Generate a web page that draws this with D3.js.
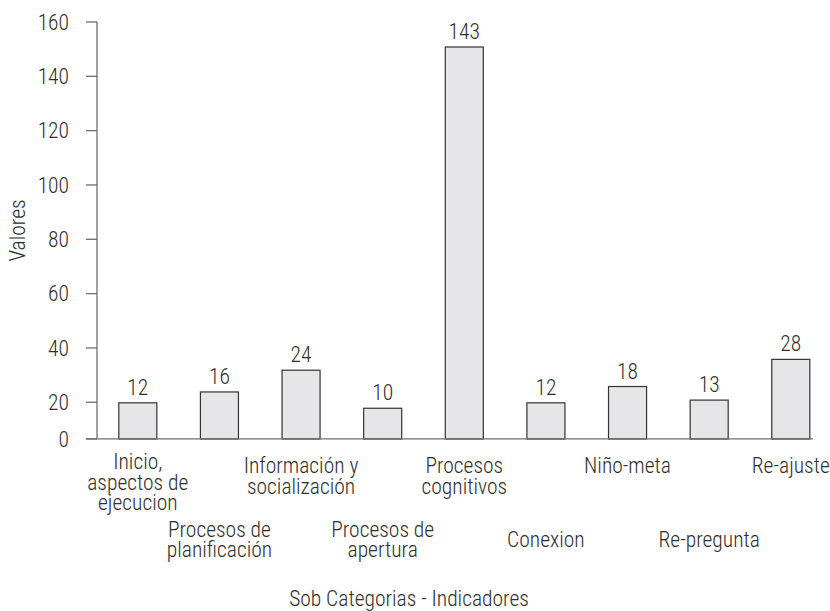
<!DOCTYPE html>
<html>
<head>
<meta charset="utf-8">
<script src="https://cdn.jsdelivr.net/npm/d3@7/dist/d3.min.js"></script>
<style>
  html, body { margin: 0; padding: 0; background: #fff; }
  svg { display: block; }
  text { font-family: "Roboto Condensed", "Liberation Sans Narrow", "DejaVu Sans Condensed", "Liberation Sans", sans-serif; font-weight: 300; fill: #2e2e2e; }
</style>
</head>
<body>
<svg id="chart" width="830" height="611"></svg>
<script>
// ---- data ----
const categories = [
  "Inicio,\naspectos de\nejecucion",
  "Procesos de\nplanificación",
  "Información y\nsocialización",
  "Procesos de\napertura",
  "Procesos\ncognitivos",
  "Conexion",
  "Niño-meta",
  "Re-pregunta",
  "Re-ajuste"
];
const values = [12, 16, 24, 10, 143, 12, 18, 13, 28];
const yTickValues = [0, 20, 40, 60, 80, 100, 120, 140, 160];
const yTitle = "Valores";
const xTitle = "Sob Categorias - Indicadores";

// ---- layout ----
const axisX = 97, axisTop = 22, axisRight = 813;
const axisBase = 6.5;   // value where the drawn "0" baseline sits on the axis
const barLift = 7.8;    // bars in the source rise this much above their label value
const fs = 21.5;

const svg = d3.select("#chart");

const y = d3.scaleLinear().domain([0, 160]).range([456.6, axisTop]);
const x = d3.scaleBand().domain(categories)
  .range([axisX, 831.6]).paddingInner(0.534).paddingOuter(0.267);

const baseY = y(axisBase);
const tickPos = t => (t === 0 ? baseY : y(t));

// bars
svg.append("g").selectAll("rect").data(values).join("rect")
  .attr("x", (d, i) => x(categories[i]))
  .attr("width", x.bandwidth())
  .attr("y", d => y(d + barLift))
  .attr("height", d => baseY - y(d + barLift))
  .attr("fill", "#e6e6e8")
  .attr("stroke", "#333")
  .attr("stroke-width", 1.2);

// value labels
svg.append("g").selectAll("text").data(values).join("text")
  .attr("x", (d, i) => x(categories[i]) + x.bandwidth() / 2)
  .attr("y", d => y(d + barLift) - 8)
  .attr("text-anchor", "middle")
  .attr("font-size", fs)
  .text(d => d);

// y axis
const axisColor = "#6e6e6e";
svg.append("line")
  .attr("x1", axisX).attr("x2", axisX)
  .attr("y1", tickPos(160)).attr("y2", baseY)
  .attr("stroke", axisColor).attr("stroke-width", 1.3);
const yt = svg.append("g").selectAll("g").data(yTickValues).join("g")
  .attr("transform", d => `translate(0,${tickPos(d)})`);
yt.append("line").attr("x1", axisX - 11).attr("x2", axisX)
  .attr("stroke", axisColor).attr("stroke-width", 1.3);
yt.append("text").attr("x", axisX - 28).attr("dy", "0.36em")
  .attr("text-anchor", "end").attr("font-size", fs).text(d => d);

// x axis line
svg.append("line")
  .attr("x1", axisX - 11).attr("x2", axisRight)
  .attr("y1", baseY).attr("y2", baseY)
  .attr("stroke", axisColor).attr("stroke-width", 1.3);

// category labels, staggered in two rows
const lineH = 20.5;
const cl = svg.append("g").selectAll("text").data(categories).join("text")
  .attr("text-anchor", "middle")
  .attr("font-size", fs)
  .attr("transform", (d, i) => {
    const n = d.split("\n").length;
    const cx = x(d) + x.bandwidth() / 2;
    let first;
    if (i % 2 === 0) first = 473 - (n > 2 ? 4 : 0);
    else first = 547 - (n - 1) * lineH / 2;
    return `translate(${cx},${first})`;
  });
cl.selectAll("tspan").data(d => d.split("\n")).join("tspan")
  .attr("x", 0).attr("dy", (d, j) => j === 0 ? 0 : lineH).text(d => d);

// titles
svg.append("text")
  .attr("x", 409).attr("y", 606)
  .attr("text-anchor", "middle").attr("font-size", fs).text(xTitle);
svg.append("text")
  .attr("transform", `translate(25,${(axisTop + baseY) / 2}) rotate(-90)`)
  .attr("text-anchor", "middle").attr("font-size", fs).text(yTitle);
</script>
</body>
</html>
